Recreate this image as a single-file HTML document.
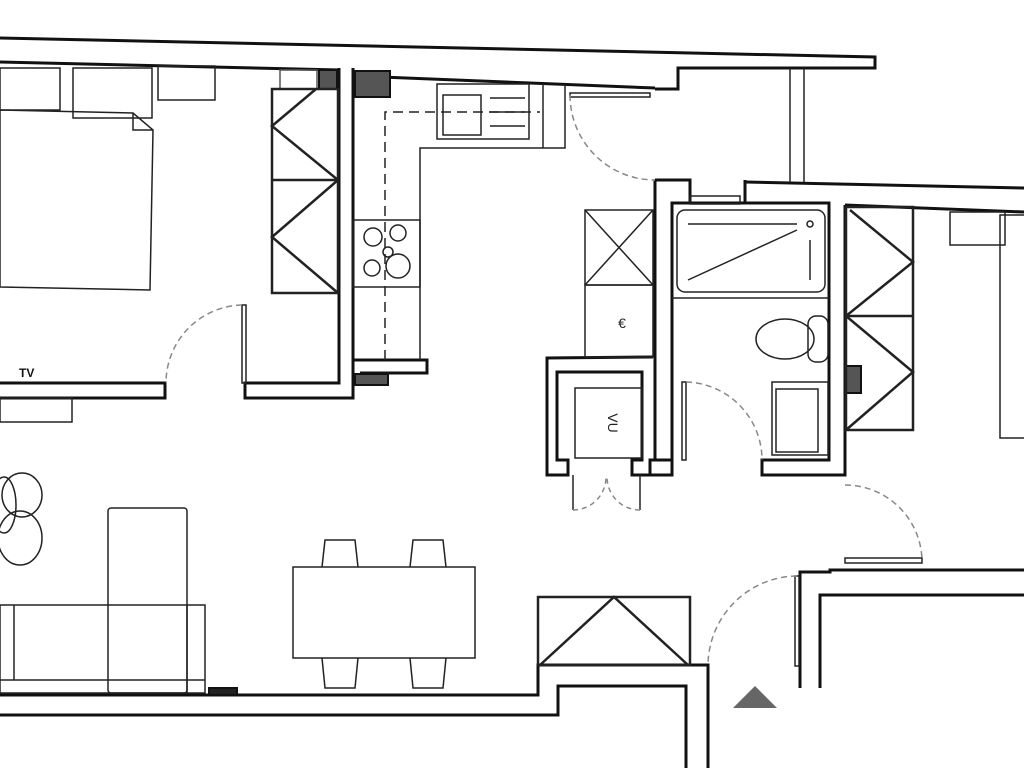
<!DOCTYPE html>
<html><head><meta charset="utf-8"><style>html,body{margin:0;padding:0;background:#fff}svg{display:block}</style></head>
<body>
<svg width="1024" height="768" viewBox="0 0 1024 768" xmlns="http://www.w3.org/2000/svg" font-family="Liberation Sans, sans-serif">
<rect width="1024" height="768" fill="#fff"/>
<g fill="none" stroke="#111" stroke-width="3">
<polyline points="0,38 875,57 875,68 678,68 678,89 655,89"/>
<polyline points="0,62 340,70"/>
<polyline points="355,76 655,88"/>
<polyline points="745,182 1024,188"/>
<polyline points="845,205 1024,212"/>
<polyline points="339,68 339,383 245,383 245,398 353,398 353,68"/>
<polyline points="0,383 165,383 165,398 0,398"/>
<polyline points="353,360 427,360 427,373 360,373"/>
<polyline points="655,180 655,460 672,460 672,203 829,203 829,460 762,460 762,475 845,475 845,205"/>
<polyline points="655,180 690,180 690,203"/>
<polyline points="745,180 745,203"/>
<polyline points="655,460 650,460 650,475 672,475 672,460"/>
<polyline points="653,357 547,358 547,475 568,475 568,460 557,460 557,372 642,372 642,460 632,460 632,475 655,475"/>
<polyline points="0,695 538,695 538,665 708,665 708,768"/>
<polyline points="0,715 558,715 558,686 686,686 686,768"/>
<polyline points="800,688 800,572 830,572 830,570 1024,570"/>
<polyline points="820,688 820,595 1024,595"/>
</g>
<g fill="#555" stroke="#111" stroke-width="2">
<rect x="319" y="70" width="18" height="19"/>
<rect x="355" y="71" width="35" height="26"/>
<rect x="355" y="374" width="33" height="11"/>
<rect x="846" y="366" width="15" height="27"/>
<rect x="209" y="688" width="28" height="7" fill="#222"/>
</g>
<rect x="280" y="70" width="37" height="19" fill="none" stroke="#555" stroke-width="1.5"/>
<g fill="none" stroke="#222" stroke-width="1.5">
<line x1="790" y1="68" x2="790" y2="182"/><line x1="804" y1="68" x2="804" y2="182"/>
<rect x="0" y="68" width="60" height="42"/>
<rect x="73" y="68" width="79" height="50"/>
<rect x="158" y="66" width="57" height="34"/>
<polygon points="0,110 133,113 153,130 150,290 0,287"/>
<polyline points="133,113 133,130 153,130"/>
<rect x="272" y="89" width="66" height="204" stroke-width="2.5"/>
<line x1="272" y1="180" x2="338" y2="180" stroke-width="2.5"/>
<polyline points="316,89 272,126 338,180 272,237 338,293" stroke-width="2.5"/>
<polyline points="420,360 420,148 565,148 565,84"/>
<rect x="437" y="84" width="92" height="55"/>
<rect x="443" y="95" width="38" height="40"/>
<line x1="490" y1="98" x2="525" y2="98"/><line x1="490" y1="112" x2="525" y2="112"/><line x1="490" y1="126" x2="525" y2="126"/>
<line x1="543" y1="84" x2="543" y2="148"/>
<polyline points="385,360 385,112 540,112" stroke-dasharray="10,6"/>
<rect x="353" y="220" width="67" height="67"/>
<circle cx="373" cy="237" r="9"/><circle cx="398" cy="233" r="8"/><circle cx="372" cy="268" r="8"/><circle cx="398" cy="266" r="12"/><circle cx="388" cy="252" r="5"/>
<rect x="242" y="305" width="4" height="78"/>
<path d="M242,305 A78,78 0 0,0 166,383" stroke-dasharray="6,4" stroke="#888"/>
<rect x="570" y="93" width="80" height="4"/>
<path d="M570,95 A85,85 0 0,0 655,180" stroke-dasharray="6,4" stroke="#888"/>
<rect x="682" y="382" width="4" height="78"/>
<path d="M686,382 A78,78 0 0,1 762,460" stroke-dasharray="6,4" stroke="#888"/>
<rect x="845" y="558" width="77" height="5"/>
<path d="M845,485 A77,77 0 0,1 922,560" stroke-dasharray="6,4" stroke="#888"/>
<rect x="795" y="576" width="4" height="90"/>
<path d="M797,576 A90,90 0 0,0 708,665" stroke-dasharray="6,4" stroke="#888"/>
<line x1="573" y1="475" x2="573" y2="510"/><line x1="640" y1="475" x2="640" y2="510"/>
<path d="M573,510 A33,33 0 0,0 606,477 M640,510 A33,33 0 0,1 607,477" stroke-dasharray="5,4" stroke="#888"/>
<rect x="677" y="210" width="148" height="82" rx="8"/>
<line x1="672" y1="298" x2="829" y2="298"/>
<line x1="688" y1="224" x2="797" y2="224"/><line x1="688" y1="280" x2="797" y2="230"/>
<circle cx="810" cy="224" r="3"/><line x1="810" y1="240" x2="810" y2="280"/>
<rect x="690" y="196" width="50" height="8"/>
<ellipse cx="785" cy="339" rx="29" ry="20"/>
<rect x="808" y="316" width="20" height="46" rx="8"/>
<rect x="772" y="382" width="56" height="73"/>
<rect x="776" y="389" width="42" height="63"/>
<rect x="585" y="210" width="68" height="75"/>
<line x1="585" y1="210" x2="653" y2="285"/><line x1="653" y1="210" x2="585" y2="285"/>
<rect x="585" y="285" width="68" height="72"/>
<rect x="575" y="388" width="67" height="70"/>
<rect x="846" y="207" width="67" height="223" stroke-width="2.5"/>
<line x1="846" y1="316" x2="913" y2="316" stroke-width="2.5"/>
<polyline points="850,210 913,262 846,316 913,372 846,430" stroke-width="2.5"/>
<rect x="950" y="212" width="55" height="33"/>
<rect x="1000" y="215" width="30" height="223"/>
<rect x="0" y="398" width="72" height="24"/>
<ellipse cx="22" cy="495" rx="20" ry="22"/><ellipse cx="20" cy="538" rx="22" ry="27"/><ellipse cx="4" cy="505" rx="12" ry="28"/>
<rect x="108" y="508" width="79" height="185" rx="3"/>
<rect x="0" y="605" width="205" height="88"/>
<line x1="14" y1="605" x2="14" y2="680"/><line x1="0" y1="680" x2="205" y2="680"/><line x1="187" y1="605" x2="187" y2="693"/>
<rect x="293" y="567" width="182" height="91"/>
<path d="M322,567 L325,540 L355,540 L358,567 M410,567 L413,540 L443,540 L446,567 M322,658 L325,688 L355,688 L358,658 M410,658 L413,688 L443,688 L446,658"/>
<rect x="538" y="597" width="152" height="68" stroke-width="2.5"/>
<polyline points="540,665 614,597 688,665" stroke-width="2.5"/>
</g>
<polygon points="755,686 733,708 777,708" fill="#666"/>
<text x="19" y="377" font-size="12" font-weight="bold" fill="#111">TV</text>
<text x="622" y="328" font-size="14" fill="#222" text-anchor="middle">€</text>
<text x="608" y="423" font-size="14" fill="#222" text-anchor="middle" transform="rotate(90 608 423)">VU</text>
</svg>
</body></html>
